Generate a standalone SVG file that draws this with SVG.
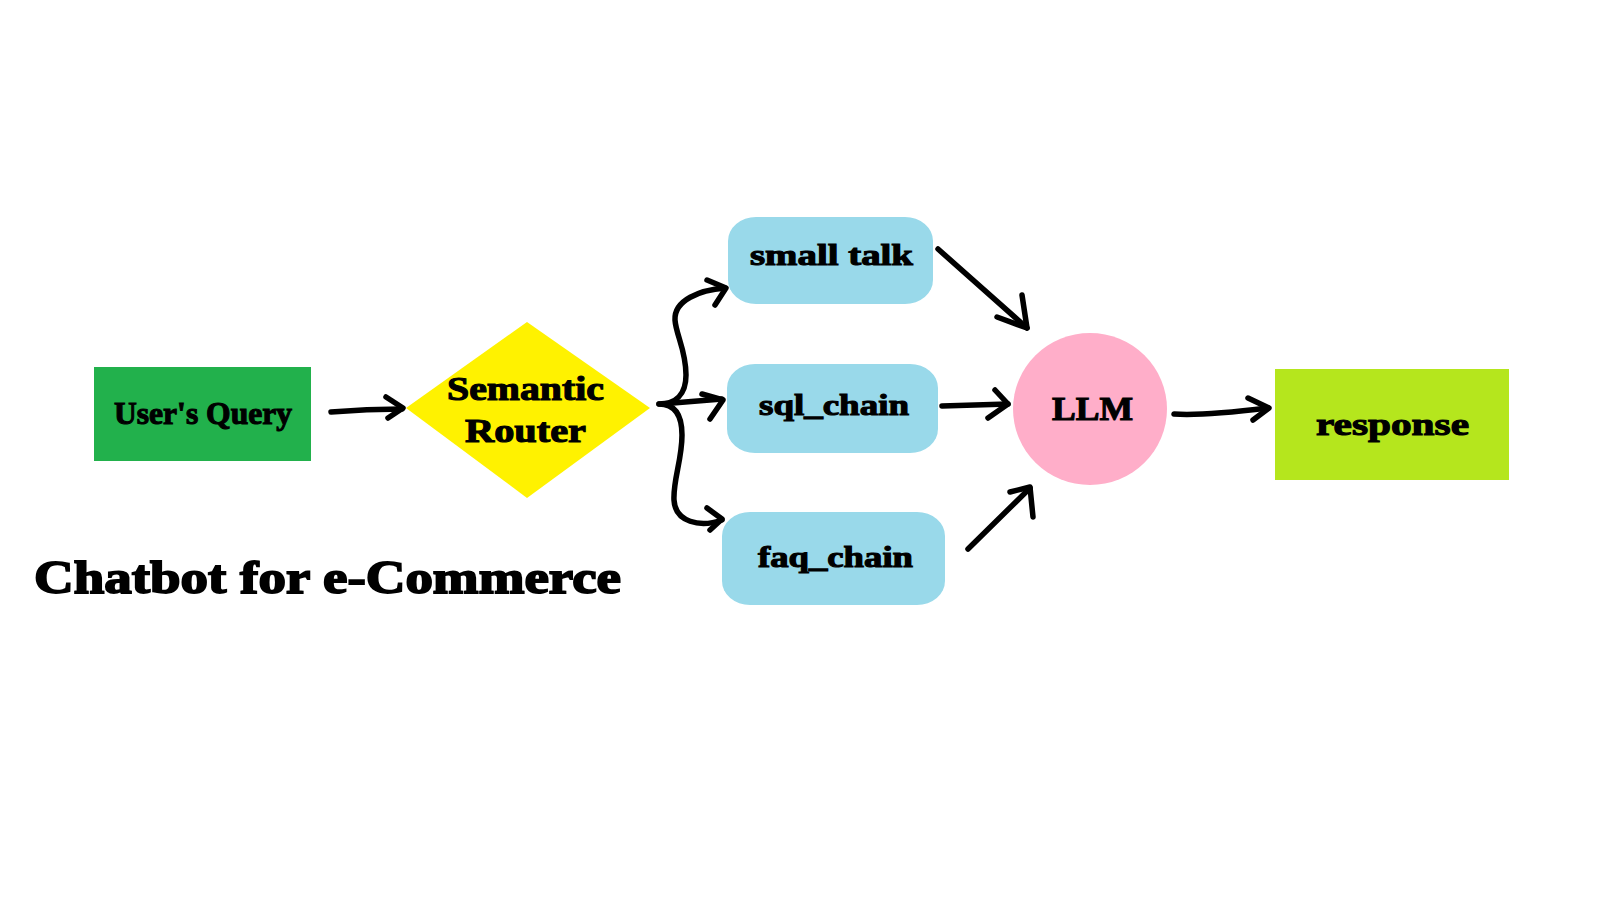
<svg xmlns="http://www.w3.org/2000/svg" width="1600" height="900" viewBox="0 0 1600 900">
<style>
.lbl{font-family:"Liberation Serif","DejaVu Serif",serif;font-weight:bold;fill:#000;stroke:#000;stroke-width:1.1;text-anchor:start}
.ttl{stroke-width:1.8}
.c{fill:none;stroke:#000;stroke-width:5.5;stroke-linecap:round;stroke-linejoin:round}
</style>
<rect width="1600" height="900" fill="#fff"/>
<g id="users-query">
<rect x="94" y="367" width="217" height="94" fill="#22b14c"/>
<text class="lbl" x="114" y="424" font-size="32" textLength="178" lengthAdjust="spacingAndGlyphs">User's Query</text>
</g>
<g id="semantic-router">
<polygon points="406,408 527,322 650,408 527,498" fill="#fff200"/>
<text class="lbl" x="447" y="400" font-size="33" textLength="157" lengthAdjust="spacingAndGlyphs">Semantic</text>
<text class="lbl" x="465" y="442" font-size="33" textLength="121" lengthAdjust="spacingAndGlyphs">Router</text>
</g>
<g id="small-talk">
<rect x="728" y="217" width="205" height="87" rx="28" ry="24" fill="#99d9ea"/>
<text class="lbl" x="750" y="265" font-size="30" textLength="163" lengthAdjust="spacingAndGlyphs">small talk</text>
</g>
<g id="sql-chain">
<rect x="727" y="364" width="211" height="89" rx="28" ry="24" fill="#99d9ea"/>
<text class="lbl" x="759" y="415" font-size="30" textLength="150" lengthAdjust="spacingAndGlyphs">sql_chain</text>
</g>
<g id="faq-chain">
<rect x="722" y="512" width="223" height="93" rx="28" ry="24" fill="#99d9ea"/>
<text class="lbl" x="758" y="567" font-size="30" textLength="155" lengthAdjust="spacingAndGlyphs">faq_chain</text>
</g>
<g id="llm">
<ellipse cx="1090" cy="409" rx="77" ry="76" fill="#ffaec9"/>
<text class="lbl" x="1052" y="420" font-size="33" textLength="81" lengthAdjust="spacingAndGlyphs">LLM</text>
</g>
<g id="response">
<rect x="1275" y="369" width="234" height="111" fill="#b5e61d"/>
<text class="lbl" x="1316" y="435" font-size="32" textLength="153" lengthAdjust="spacingAndGlyphs">response</text>
</g>
<g id="title">
<text class="lbl ttl" x="34" y="593" font-size="46" textLength="587" lengthAdjust="spacingAndGlyphs">Chatbot for e-Commerce</text>
</g>
<g id="connectors">
<path class="c" d="M331,412 C355,410 380,409 402,409"/>
<polyline class="c" points="386,397 403,408 388,418"/>
<path class="c" d="M659,404 C675,404 686,395 686,375 C686,350 676,335 675,320 C674,300 700,290 725,288"/>
<polyline class="c" points="707,280 726,288 715,305"/>
<path class="c" d="M673,403 L722,399"/>
<polyline class="c" points="702,394 723,400 710,419"/>
<path class="c" d="M659,404 C675,404 682,415 682,435 C682,460 673,480 674,500 C675,522 700,528 722,520"/>
<polyline class="c" points="707,508 722,519 710,530"/>
<path class="c" d="M938,249 L1027,328"/>
<polyline class="c" points="1022,295 1027,328 997,317"/>
<path class="c" d="M942,406 L1008,404"/>
<polyline class="c" points="995,390 1008,404 988,418"/>
<path class="c" d="M968,549 L1030,488"/>
<polyline class="c" points="1010,492 1030,487 1033,517"/>
<path class="c" d="M1174,414 C1200,416 1235,412 1268,408"/>
<polyline class="c" points="1248,398 1269,408 1253,420"/>
</g>
</svg>
